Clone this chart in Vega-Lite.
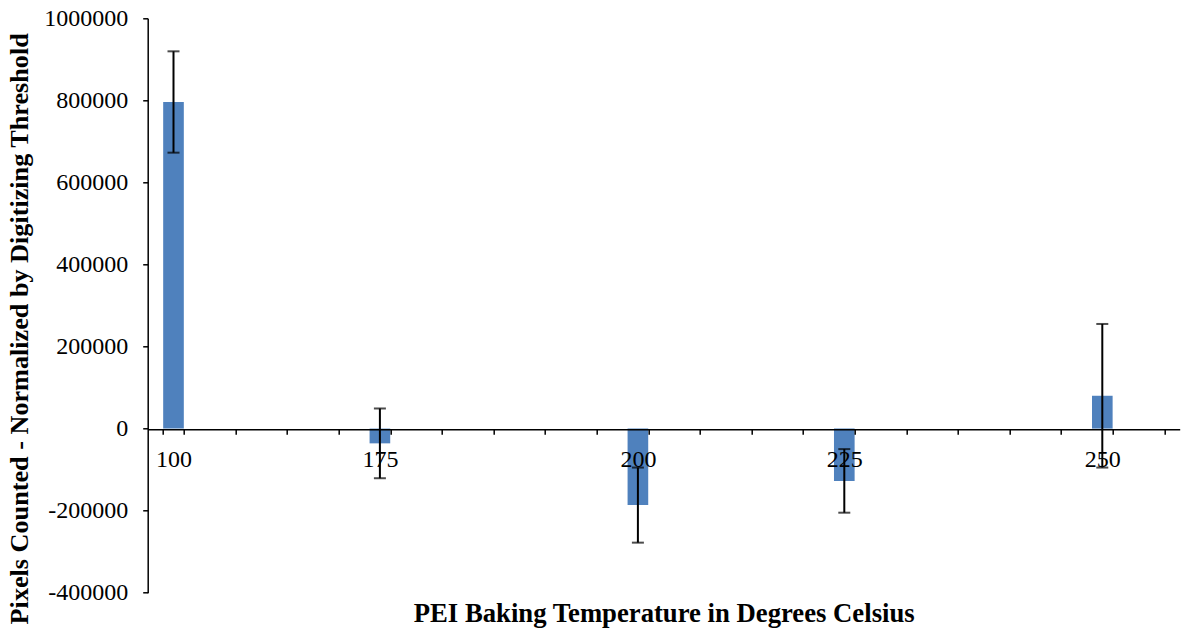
{
  "$schema": "https://vega.github.io/schema/vega-lite/v6.json",
  "width": 1032,
  "height": 574.4,
  "autosize": {"type": "none"},
  "padding": {"left": 147.7, "top": 18.3, "right": 9.3, "bottom": 37.3},
  "background": "white",
  "config": {
    "view": {"stroke": null},
    "font": "Liberation Serif",
    "axis": {"grid": false, "domainColor": "black", "tickColor": "black", "labelColor": "black", "titleColor": "black", "domainWidth": 1.5, "tickWidth": 1.5, "labelFont": "Liberation Serif", "titleFont": "Liberation Serif"}
  },
  "data": {
    "values": [
      {"temp": "100", "value": 796000, "lo": 672500, "hi": 919500},
      {"temp": "175", "value": -36000, "lo": -121000, "hi": 49000},
      {"temp": "200", "value": -186000, "lo": -278000, "hi": -95000},
      {"temp": "225", "value": -128000, "lo": -205000, "hi": -50000},
      {"temp": "250", "value": 80000, "lo": -95000, "hi": 255000}
    ]
  },
  "encoding": {
    "x": {
      "field": "temp",
      "type": "nominal",
      "sort": null,
      "scale": {
        "domain": ["100", "b1", "b2", "b3", "175", "b5", "b6", "b7", "b8", "200", "b10", "b11", "b12", "225", "b14", "b15", "b16", "b17", "250", "b19"],
        "paddingInner": 0.6,
        "paddingOuter": 0.3
      },
      "axis": {
        "orient": "bottom",
        "offset": -163.4,
        "zindex": 1,
        "labelAngle": 0,
        "labelExpr": "test(/^b/, datum.value) ? '' : datum.value",
        "labelFontSize": 24,
        "labelPadding": 13,
        "tickSize": 5,
        "tickBand": "extent",
        "title": "PEI Baking Temperature in Degrees Celsius",
        "titleFontSize": 26.7,
        "titleFontWeight": "bold",
        "titleBaseline": "alphabetic",
        "titleY": 192.4
      }
    }
  },
  "layer": [
    {
      "mark": {"type": "bar", "color": "#4F81BD"},
      "encoding": {
        "y": {
          "field": "value",
          "type": "quantitative",
          "scale": {"domain": [-400000, 1000000], "nice": false, "zero": false},
          "axis": {
            "values": [-400000, -200000, 0, 200000, 400000, 600000, 800000, 1000000],
            "format": "d",
            "labelExpr": "replace(datum.label, '\u2212', '-')",
            "labelFontSize": 24,
            "labelPadding": 15,
            "tickSize": 5,
            "title": "Pixels Counted - Normalized by Digitizing Threshold",
            "titleFontSize": 26.2,
            "titleFontWeight": "bold",
            "titleBaseline": "alphabetic",
            "titleX": -120,
            "titleY": 310
          }
        }
      }
    },
    {
      "mark": {"type": "rule", "color": "black", "strokeWidth": 2},
      "encoding": {
        "y": {"field": "lo", "type": "quantitative"},
        "y2": {"field": "hi"}
      }
    },
    {
      "mark": {"type": "tick", "color": "black", "size": 12, "thickness": 2},
      "encoding": {"y": {"field": "lo", "type": "quantitative"}}
    },
    {
      "mark": {"type": "tick", "color": "black", "size": 12, "thickness": 2},
      "encoding": {"y": {"field": "hi", "type": "quantitative"}}
    }
  ]
}
